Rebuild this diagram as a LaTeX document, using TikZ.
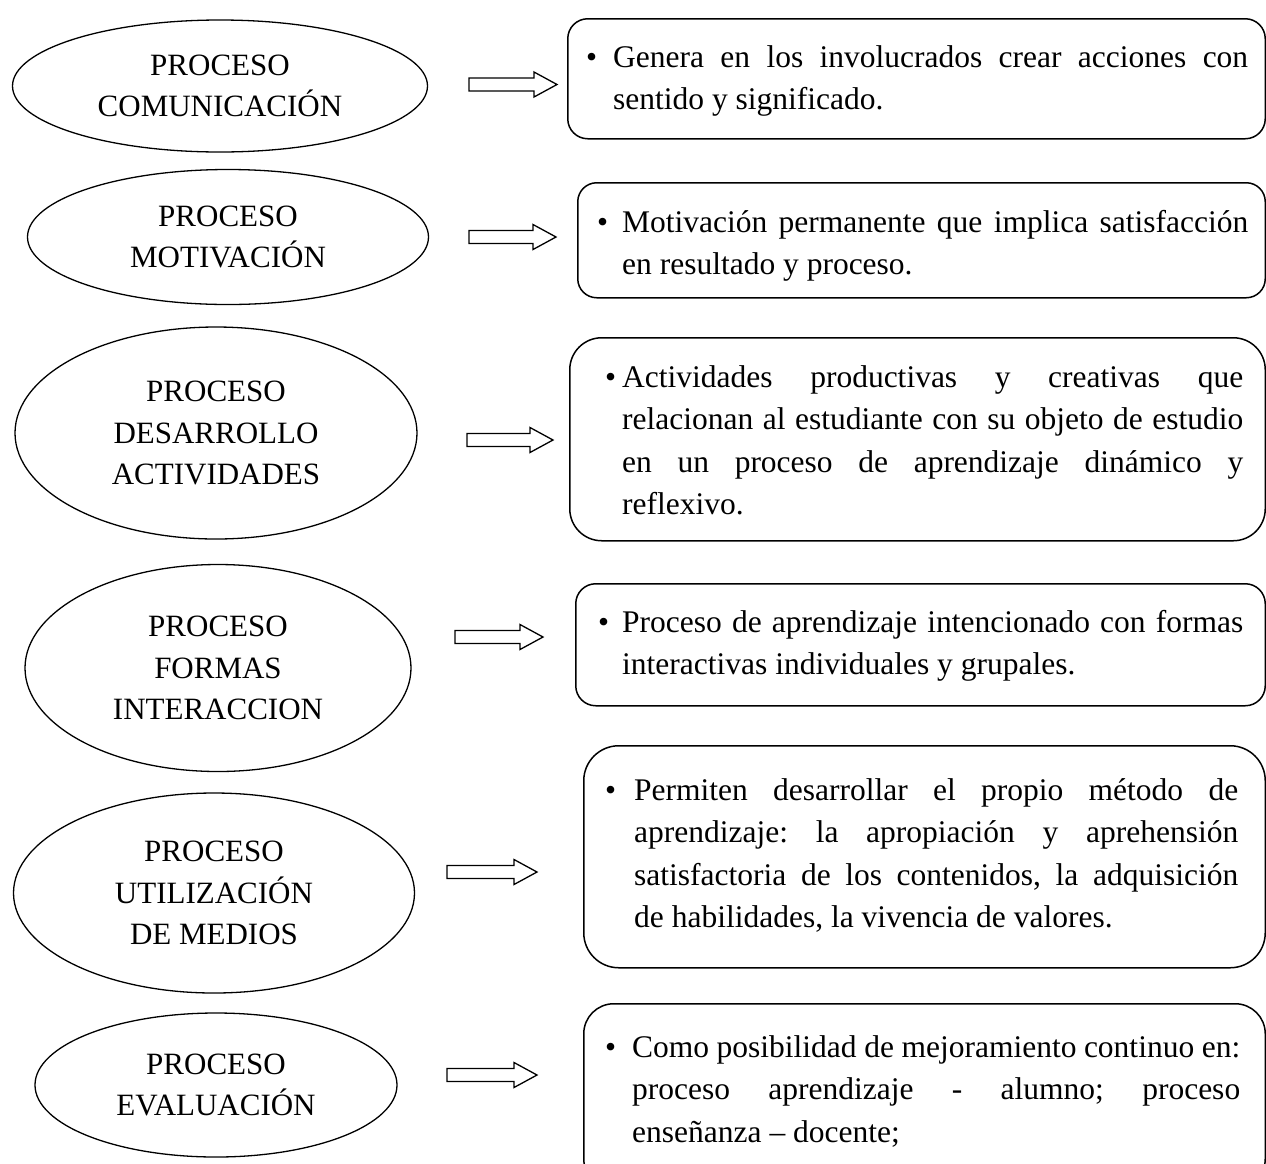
\documentclass[tikz,border=0pt]{standalone}
\usepackage{fontspec}
\setmainfont{Liberation Serif}
\usetikzlibrary{shapes.geometric,calc}
\tikzset{
  proc/.style={ellipse, draw, line width=1.3pt, inner sep=0pt, align=center,
    font=\fontsize{31}{41.5}\selectfont},
  descbox/.style={rectangle, draw, line width=1.5pt, inner sep=0pt, anchor=north west},
  desctext/.style={anchor=base west, inner sep=0pt, font=\fontsize{31.5}{42.5}\selectfont},
  blockarr/.style={draw, line width=1.3pt, fill=white, line join=miter},
}
\frenchspacing
\newcommand\bulpar[3]{\makebox[#1][l]{\textbullet}\parbox[t]{#2}{#3}}
\newcommand\blockarrow[2]{%
  \draw[blockarr] ($(#1)+(0,-6.5)$) -- ($(#2)+(-23,-6.5)$) -- ($(#2)+(-23,-12.5)$)
    -- (#2) -- ($(#2)+(-23,12.5)$) -- ($(#2)+(-23,6.5)$) -- ($(#1)+(0,6.5)$) -- cycle;}
\begin{document}
\begin{tikzpicture}[x=1pt,y=-1pt]
\useasboundingbox (0,0) rectangle (1266,1163);
\clip (0,0) rectangle (1266,1163);
\fill[white] (0,0) rectangle (1266,1163);

% ellipses
\node[proc, minimum width=415pt, minimum height=132pt] (e1) at (220,86) {PROCESO\\COMUNICACIÓN};
\node[proc, minimum width=401pt, minimum height=135pt] (e2) at (228,237) {PROCESO\\MOTIVACIÓN};
\node[proc, minimum width=402pt, minimum height=212pt] (e3) at (216,433) {PROCESO\\DESARROLLO\\ACTIVIDADES};
\node[proc, minimum width=386pt, minimum height=207pt] (e4) at (218,668) {PROCESO\\FORMAS\\INTERACCION};
\node[proc, minimum width=401pt, minimum height=200pt] (e5) at (214,893) {PROCESO\\UTILIZACIÓN\\DE MEDIOS};
\node[proc, minimum width=362pt, minimum height=144pt] (e6) at (216,1085) {PROCESO\\EVALUACIÓN};

% boxes
\node[descbox, rounded corners=20pt, minimum width=697.5pt, minimum height=120pt] (b1) at (567,18) {};
\node[descbox, rounded corners=19pt, minimum width=687.5pt, minimum height=115pt] (b2) at (577,182) {};
\node[descbox, rounded corners=32pt, minimum width=695.5pt, minimum height=203pt] (b3) at (569,337) {};
\node[descbox, rounded corners=20pt, minimum width=689.5pt, minimum height=122pt] (b4) at (575,583) {};
\node[descbox, rounded corners=35pt, minimum width=681.5pt, minimum height=222pt] (b5) at (583,745) {};
\node[descbox, rounded corners=30pt, minimum width=681.5pt, minimum height=185pt] (b6) at (583,1003) {};

% texts
\node[desctext] (t1) at (586,67) {\bulpar{27pt}{635pt}{Genera en los involucrados crear acciones con\linebreak sentido y significado.}};
\node[desctext] (t2) at (597,232) {\bulpar{25pt}{626pt}{Motivación permanente que implica satisfacción\linebreak en resultado y proceso.}};
\node[desctext] (t3) at (605,387) {\bulpar{17pt}{621pt}{Actividades productivas y creativas que\linebreak relacionan al estudiante con su objeto de estudio\linebreak en un proceso de aprendizaje dinámico y\linebreak reflexivo.}};
\node[desctext] (t4) at (598,632) {\bulpar{24pt}{621pt}{Proceso de aprendizaje intencionado con formas\linebreak interactivas individuales y grupales.}};
\node[desctext] (t5) at (605,800) {\bulpar{29pt}{604pt}{Permiten desarrollar el propio método de\linebreak aprendizaje: la apropiación y aprehensión\linebreak satisfactoria de los contenidos, la adquisición\linebreak de habilidades, la vivencia de valores.}};
\node[desctext] (t6) at (605,1057) {\bulpar{27pt}{608pt}{Como posibilidad de mejoramiento continuo en:\linebreak proceso aprendizaje - alumno; proceso\linebreak enseñanza – docente;}};

% block arrows
\coordinate (a1s) at (469,84.5); \coordinate (a1e) at (557,84.5);
\coordinate (a2s) at (469,237);  \coordinate (a2e) at (556,237);
\coordinate (a3s) at (467,440);  \coordinate (a3e) at (553,440);
\coordinate (a4s) at (455,637);  \coordinate (a4e) at (543,637);
\coordinate (a5s) at (447,872);  \coordinate (a5e) at (537,872);
\coordinate (a6s) at (447,1075); \coordinate (a6e) at (537,1075);
\blockarrow{a1s}{a1e}
\blockarrow{a2s}{a2e}
\blockarrow{a3s}{a3e}
\blockarrow{a4s}{a4e}
\blockarrow{a5s}{a5e}
\blockarrow{a6s}{a6e}
\end{tikzpicture}
\end{document}
